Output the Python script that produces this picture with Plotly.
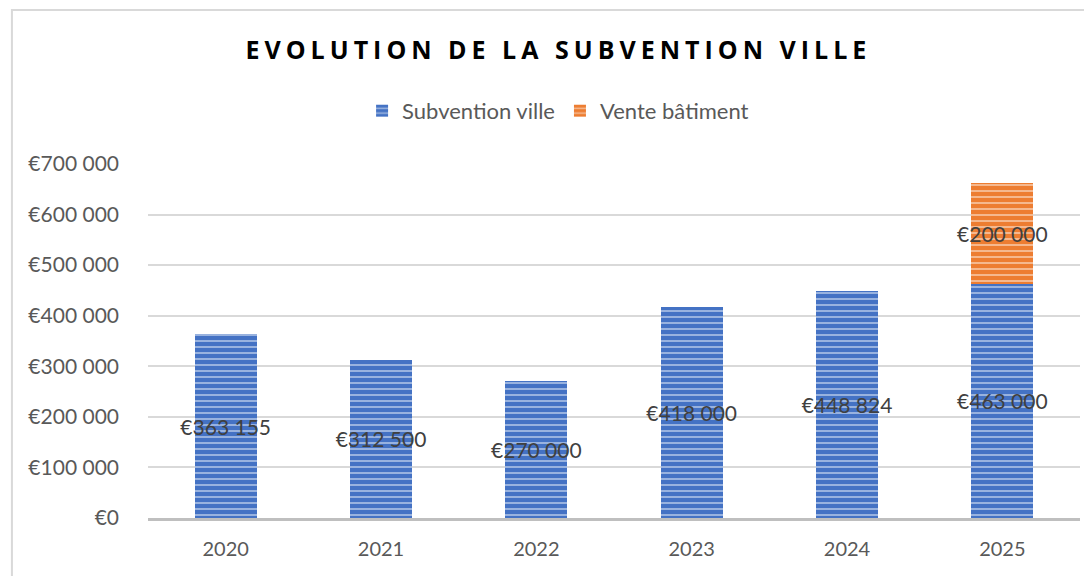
import plotly.graph_objects as go

years = ["2020", "2021", "2022", "2023", "2024", "2025"]
subvention = [363155, 312500, 270000, 418000, 448824, 463000]
vente = [0, 0, 0, 0, 0, 200000]
subvention_labels = ["€363 155", "€312 500", "€270 000", "€418 000", "€448 824", "€463 000"]
vente_labels = ["", "", "", "", "", "€200 000"]
tick_vals = [0, 100000, 200000, 300000, 400000, 500000, 600000, 700000]
tick_text = ["€0", "€100 000", "€200 000", "€300 000", "€400 000", "€500 000", "€600 000", "€700 000"]

BLUE = "#4472C4"
ORANGE = "#ED7D31"
FONT = "Lato"

fig = go.Figure()
fig.add_trace(go.Bar(
    x=years, y=subvention, name="Subvention ville",
    text=subvention_labels, textposition="inside", insidetextanchor="middle", textangle=0,
    textfont=dict(color="#404040", size=21, family=FONT),
    marker=dict(color=BLUE, line=dict(width=0),
                pattern=dict(shape="-", fgcolor="white", bgcolor=BLUE, size=6, solidity=0.3)),
    hoverinfo="skip",
))
fig.add_trace(go.Bar(
    x=years, y=vente, name="Vente bâtiment",
    text=vente_labels, textposition="inside", insidetextanchor="middle", textangle=0,
    textfont=dict(color="#404040", size=21, family=FONT),
    marker=dict(color=ORANGE, line=dict(width=0),
                pattern=dict(shape="-", fgcolor="white", bgcolor=ORANGE, size=6, solidity=0.3)),
    hoverinfo="skip",
))

fig.update_layout(
    width=1092, height=576,
    barmode="stack", bargap=0.6,
    paper_bgcolor="white", plot_bgcolor="white",
    margin=dict(l=140, r=20, t=156, b=66),
    uniformtext=dict(minsize=21, mode="show"),
    font=dict(family=FONT, color="#595959", size=20),
    title=dict(text="<b>EVOLUTION DE LA SUBVENTION VILLE</b>",
               x=0.504, xanchor="center", y=0.927, yanchor="middle",
               font=dict(family="Open Sans", size=25, color="#000000")),
    legend=dict(orientation="h", x=0.44, xanchor="center", y=1.15, yanchor="middle",
                font=dict(size=22, color="#595959", family=FONT),
                traceorder="normal", itemwidth=30),
    showlegend=True,
)
fig.update_xaxes(type="category", showline=True, linecolor="#bfbfbf", linewidth=3,
                 showgrid=False, ticks="", tickfont=dict(size=20, color="#595959"),
                 ticklabelstandoff=11)
fig.update_yaxes(range=[0, 700000], tickvals=tick_vals, ticktext=tick_text,
                 showgrid=True, gridcolor="#d9d9d9", gridwidth=1.5, zeroline=False,
                 showline=False, ticks="", tickfont=dict(size=21, color="#595959"),
                 ticklabelstandoff=28)

fig.add_shape(type="rect", xref="paper", yref="paper",
              x0=-0.146, x1=1.05, y0=-0.3, y1=1.435,
              line=dict(color="#d9d9d9", width=2), fillcolor="rgba(0,0,0,0)", layer="below")

post = """
document.querySelectorAll('.gtitle').forEach(function(e){e.style.letterSpacing='5px';});
"""
fig.write_html("out.html", post_script=post)
